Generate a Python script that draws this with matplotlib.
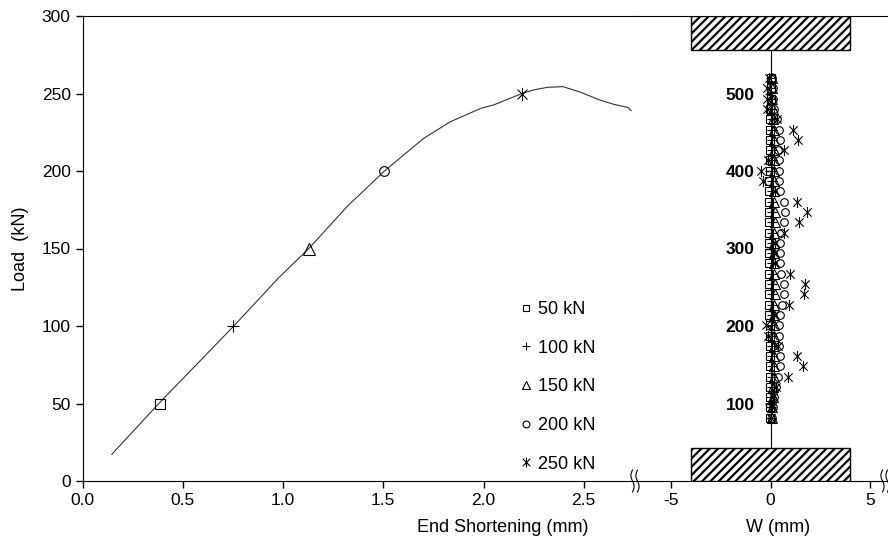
import numpy as np
import matplotlib.pyplot as plt
from matplotlib.patches import Rectangle
from matplotlib.lines import Line2D
from matplotlib.path import Path

plt.rcParams["font.family"] = ["Liberation Sans", "DejaVu Sans"]
plt.rcParams["font.size"] = 12.5
plt.rcParams["axes.unicode_minus"] = False
plt.rcParams["hatch.linewidth"] = 1.6

# load - end shortening curve
shortening = [0.146, 0.388, 0.751, 0.976, 1.129, 1.319, 1.506, 1.701, 1.835, 1.988,
              2.05, 2.192, 2.25, 2.32, 2.397, 2.48, 2.58, 2.65, 2.72, 2.736]
load = [17.2, 51, 99.5, 130.8, 150, 177, 200, 221, 231.8, 240.5,
        242.6, 250, 252.3, 254, 254.4, 251, 245.8, 243, 241, 239]

# load levels marked on the curve
levels = [50, 100, 150, 200, 250]
level_short = [0.388, 0.751, 1.129, 1.506, 2.192]
level_labels = ["50 kN", "100 kN", "150 kN", "200 kN", "250 kN"]

# lateral deflection W (mm) along the height at each load level
heights = [520, 507, 493, 480, 467, 453, 440, 427, 414, 400, 387, 374, 360, 347, 334, 320, 307,
           294, 281, 267, 254, 241, 227, 214, 201, 187, 174, 161, 148, 134, 121, 108, 95, 81]
w50 = [0.00, 0.00, 0.00, -0.02, -0.03, -0.04, -0.04, -0.05, -0.05, -0.05, -0.06, -0.06, -0.06,
       -0.06, -0.06, -0.06, -0.06, -0.06, -0.06, -0.06, -0.06, -0.06, -0.06, -0.06, -0.05, -0.05,
       -0.05, -0.05, -0.05, -0.04, -0.04, -0.03, -0.02, -0.01]
w100 = [0.05, 0.05, 0.06, 0.06, 0.07, 0.08, 0.08, 0.08, 0.08, 0.08, 0.08, 0.09, 0.09, 0.09,
        0.09, 0.09, 0.09, 0.09, 0.09, 0.09, 0.09, 0.09, 0.09, 0.08, 0.08, 0.08, 0.08, 0.08,
        0.07, 0.07, 0.06, 0.05, 0.04, 0.03]
w150 = [0.08, 0.08, 0.10, 0.12, 0.15, 0.17, 0.18, 0.18, 0.18, 0.17, 0.17, 0.18, 0.20, 0.21,
        0.21, 0.20, 0.19, 0.18, 0.19, 0.20, 0.21, 0.21, 0.20, 0.18, 0.17, 0.17, 0.17, 0.18,
        0.18, 0.17, 0.15, 0.12, 0.10, 0.06]
w200 = [0.10, 0.12, 0.15, 0.20, 0.34, 0.42, 0.46, 0.36, 0.42, 0.42, 0.42, 0.50, 0.67, 0.72,
        0.67, 0.55, 0.50, 0.50, 0.50, 0.55, 0.67, 0.67, 0.60, 0.50, 0.45, 0.45, 0.45, 0.50,
        0.50, 0.40, 0.30, 0.20, 0.15, 0.08]
w250 = [-0.08, -0.20, -0.20, -0.17, 0.34, 1.14, 1.38, 0.67, -0.15, -0.50, -0.37, 0.25, 1.35,
        1.85, 1.42, 0.67, 0.25, 0.20, 0.25, 1.00, 1.72, 1.67, 0.92, 0.17, -0.25, -0.13, 0.40,
        1.31, 1.65, 0.88, 0.30, 0.15, 0.10, 0.05]
deflections = [w50, w100, w150, w200, w250]

# six-armed asterisk marker
star = Path([(0, -1), (0, 1), (-0.75, -0.75), (0.75, 0.75), (-0.75, 0.75), (0.75, -0.75)],
            [Path.MOVETO, Path.LINETO] * 3)
markers = ["s", "+", "^", "o", star]
sizes = [5.5, 7, 6.5, 5.5, 8]

W, H = 888, 551
fig = plt.figure(figsize=(W / 100, H / 100), dpi=100)
x0, xb, top, bot = 82.5, 635, 16, 481
ax1 = fig.add_axes([x0 / W, 1 - bot / H, (xb - x0) / W, (bot - top) / H])
ax2 = fig.add_axes([xb / W, 1 - bot / H, (W - xb) / W, (bot - top) / H])

# left panel
ax1.plot(shortening, load, color="#333333", lw=0.8)
for xs, ys, m, s in zip(level_short, levels, markers, sizes):
    ax1.plot(xs, ys, linestyle="none", marker=m, ms=s + 1.5, mfc="none", mec="black", mew=0.8)
ax1.set_xlim(0, (xb - x0) / 200.5)
ax1.set_ylim(0, 300)
ax1.set_xticks(np.arange(0, 2.6, 0.5))
ax1.set_xticklabels([f"{v:.1f}" for v in np.arange(0, 2.6, 0.5)])
ax1.set_yticks(range(0, 301, 50))
ax1.spines["right"].set_visible(False)
ax1.tick_params(direction="out", length=5, width=1)
ax1.set_xlabel("End Shortening (mm)", fontsize=13)
ax1.xaxis.set_label_coords(0.76, -0.082)
ax1.set_ylabel("Load  (kN)", fontsize=13)
ax1.yaxis.set_label_coords(-0.097, 0.5)

# right panel
handles = []
for w, m, s, lab in zip(deflections, markers, sizes, level_labels):
    h, = ax2.plot(w, heights, linestyle="none", marker=m, ms=s, mfc="none", mec="black",
                  mew=0.8, label=lab)
    handles.append(h)
ax2.add_patch(Rectangle((-4, 556), 8, 44, facecolor="white", edgecolor="black", hatch="////", lw=1, zorder=3))
ax2.add_patch(Rectangle((-4, 0), 8, 43, facecolor="white", edgecolor="black", hatch="////", lw=1, zorder=3))
ax2.set_xlim((xb - 770.5) / 19.9, (W - 770.5) / 19.9)
ax2.set_ylim(0, 600)
ax2.spines["right"].set_visible(False)
ax2.spines["left"].set_position(("data", 0))
ax2.spines["left"].set_bounds(43, 556)
ax2.set_xticks([-5, 0, 5])
ax2.set_yticks([100, 200, 300, 400, 500])
for t in ax2.get_yticklabels():
    t.set_fontweight("bold")
ax2.tick_params(direction="out", length=5, width=1)
ax2.tick_params(axis="y", length=4.5, pad=7)
ax2.set_xlabel("W (mm)", fontsize=13)
ax2.xaxis.set_label_coords(0.565, -0.082)

ax1.legend(handles, level_labels, loc="upper left", frameon=False, fontsize=13,
           bbox_to_anchor=(519 / W, 1 - 301 / H), bbox_transform=fig.transFigure,
           borderpad=0, borderaxespad=0, handlelength=0.8, handletextpad=0.25,
           labelspacing=1.2, markerscale=0.9)

# axis break marks on the bottom line
t = np.linspace(-1, 1, 40)
for xc in (xb, 885):
    for dx in (-2.5, 2.5):
        xs = xc + dx + 1.6 * np.sin(np.pi * t)
        ys = bot + 11 * t
        fig.add_artist(Line2D(xs / W, 1 - ys / H, transform=fig.transFigure, color="black", lw=0.8))

fig.savefig("out.png", dpi=100)
